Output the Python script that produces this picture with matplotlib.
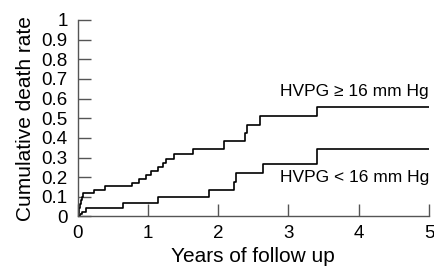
import numpy as np
import matplotlib
matplotlib.use("Agg")
import matplotlib.pyplot as plt

plt.rcParams['font.family'] = ['Liberation Sans', 'DejaVu Sans']

# HVPG >= 16 mm Hg (step points, post)
t_high = [0, 0.01, 0.02, 0.03, 0.045, 0.06, 0.08, 0.23, 0.39, 0.77, 0.87, 0.97,
          1.05, 1.14, 1.21, 1.26, 1.375, 1.64, 2.08, 2.38, 2.41, 2.59, 3.41, 5.0]
v_high = [0, 0.02, 0.045, 0.065, 0.085, 0.10, 0.118, 0.137, 0.155, 0.172, 0.192, 0.211,
          0.23, 0.25, 0.27, 0.295, 0.32, 0.345, 0.385, 0.425, 0.468, 0.511, 0.557, 0.557]

# HVPG < 16 mm Hg
t_low = [0, 0.04, 0.07, 0.12, 0.64, 1.14, 1.87, 2.23, 2.26, 2.64, 3.40, 5.0]
v_low = [0, 0.015, 0.025, 0.042, 0.067, 0.099, 0.135, 0.177, 0.222, 0.268, 0.342, 0.342]

xticks = [0, 1, 2, 3, 4, 5]
yticks = [0, 0.1, 0.2, 0.3, 0.4, 0.5, 0.6, 0.7, 0.8, 0.9, 1]
ytick_labels = ['0', '0.1', '0.2', '0.3', '0.4', '0.5', '0.6', '0.7', '0.8', '0.9', '1']

fig = plt.figure(figsize=(4.34, 2.69), dpi=100)
ax = fig.add_axes([0.1786, 0.1952, 0.81, 0.7305])

ax.step(t_high, v_high, where='post', color='black', lw=1.2)
ax.step(t_low, v_low, where='post', color='black', lw=1.2)

ax.set_xlim(0, 5)
ax.set_ylim(0, 1)
ax.set_xticks(xticks)
ax.set_yticks(yticks)
ax.set_yticklabels(ytick_labels)

for s in ['top', 'right']:
    ax.spines[s].set_visible(False)
for s in ['left', 'bottom']:
    ax.spines[s].set_color('#555555')
    ax.spines[s].set_linewidth(1.0)
ax.tick_params(direction='in', length=9, width=1.0, color='#555555',
               labelsize=13.5)
ax.tick_params(axis='y', pad=7)
ax.tick_params(axis='x', pad=6)

ax.text(5, 0.635, 'HVPG \u2265 16 mm Hg', ha='right', va='center', fontsize=12.5)
ax.text(5, 0.20, 'HVPG < 16 mm Hg', ha='right', va='center', fontsize=12.5)

ax.set_xlabel('Years of follow up', fontsize=15, labelpad=4)
ax.set_ylabel('Cumulative death rate', fontsize=15, labelpad=5)

fig.savefig('out.png', dpi=100)
